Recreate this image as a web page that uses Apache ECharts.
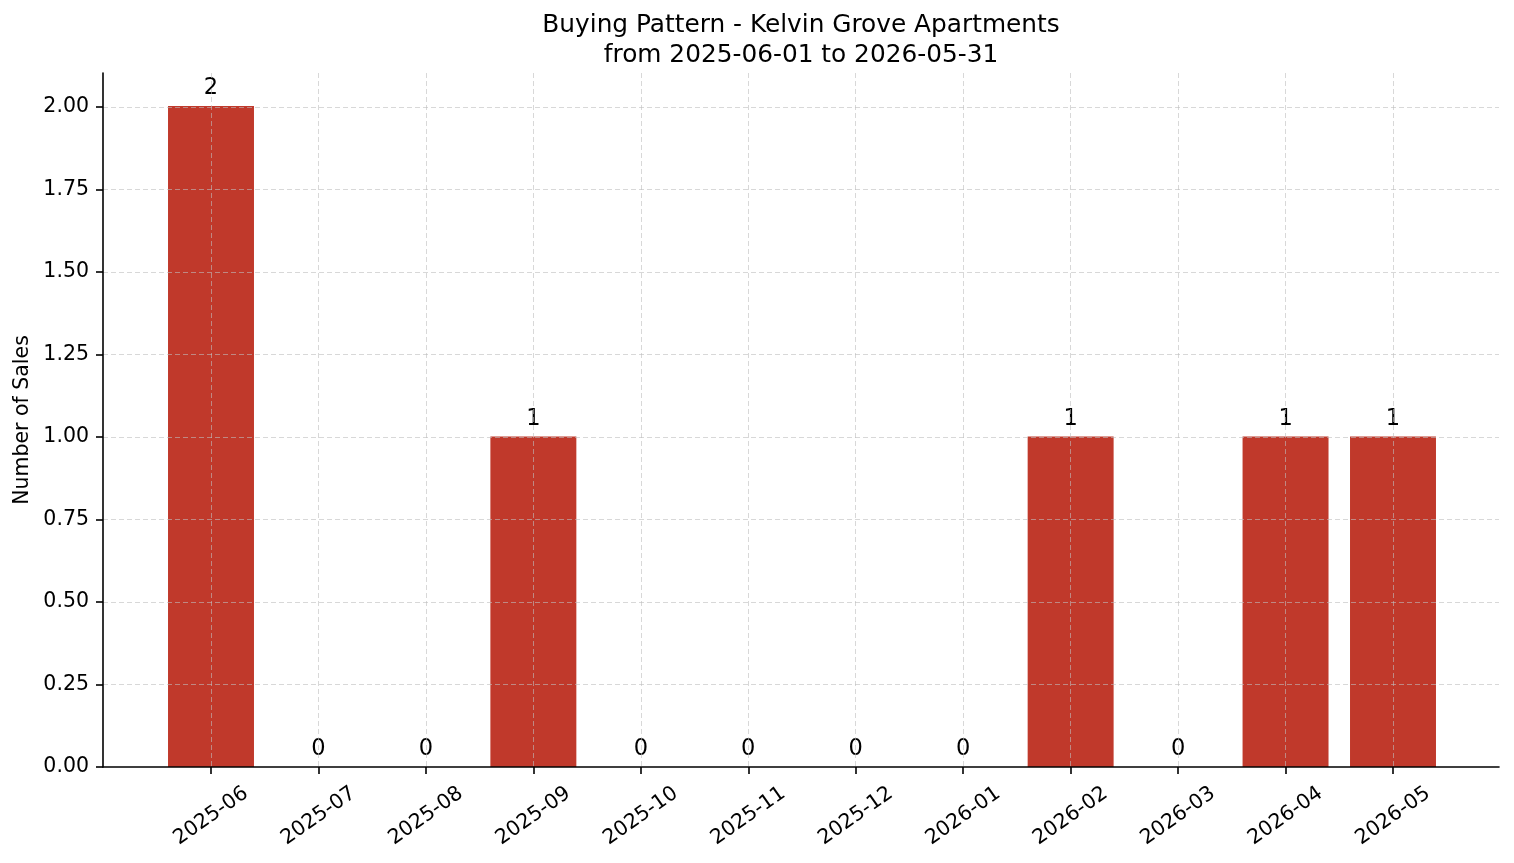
<!DOCTYPE html>
<html>
<head>
<meta charset="utf-8">
<title>Buying Pattern - Kelvin Grove Apartments</title>
<script src="https://cdn.jsdelivr.net/npm/echarts@6/dist/echarts.min.js"></script>
<style>
  html, body { margin: 0; padding: 0; background: #fff; }
  #chart { width: 1514px; height: 863px; }
</style>
</head>
<body>
<div id="chart"></div>
<script>
var titleText = 'Buying Pattern - Kelvin Grove Apartments\nfrom 2025-06-01 to 2026-05-31'
var yAxisName = 'Number of Sales'
var months = ['2025-06', '2025-07', '2025-08', '2025-09', '2025-10', '2025-11',
  '2025-12', '2026-01', '2026-02', '2026-03', '2026-04', '2026-05']
var salesCounts = [2, 0, 0, 1, 0, 0, 0, 0, 1, 0, 1, 1]
var yMin = 0
var yMax = 2
var yStep = 0.25
var yTop = 2.1

var FONT = 'DejaVu Sans'
var BAR_COLOR = '#c0392b'
var INK = '#000'
var GRID_STYLE = { color: 'rgba(190,190,190,0.6)', width: 1, type: [5, 3] }

var chart = echarts.init(document.getElementById('chart'))

// three grids: spines (full box), y ticks (0..2), bars/categories (tick centre to tick centre)
var option = {
  animation: false,
  backgroundColor: '#fff',
  textStyle: { fontFamily: FONT },
  graphic: [{
    type: 'text',
    x: 801,
    y: 11,
    style: {
      text: titleText,
      fontFamily: FONT,
      fontSize: 24.8,
      lineHeight: 29.4,
      fill: INK,
      textAlign: 'center',
      textVerticalAlign: 'top'
    }
  }],
  grid: [
    { left: 103, right: 15, top: 73, bottom: 96 },
    { left: 103, right: 15, top: 107, bottom: 96 },
    { left: 211, right: 121, top: 73, bottom: 96 }
  ],
  xAxis: [
    {
      gridIndex: 0, type: 'value', min: 0, max: 1, position: 'bottom', z: 6,
      axisLine: { show: true, lineStyle: { color: INK, width: 1.6 } },
      axisTick: { show: false }, axisLabel: { show: false }, splitLine: { show: false }
    },
    { gridIndex: 1, type: 'value', show: false },
    {
      gridIndex: 2, type: 'category', data: months, boundaryGap: false, z: 5,
      axisLine: { show: false },
      axisTick: { show: true, interval: 0, length: 7, lineStyle: { color: INK, width: 1.6 } },
      axisLabel: {
        interval: 0, rotate: 35, align: 'center', verticalAlign: 'middle', margin: 49,
        fontSize: 20.5, color: INK, fontFamily: FONT
      },
      splitLine: { show: true, interval: 0, lineStyle: GRID_STYLE }
    }
  ],
  yAxis: [
    {
      gridIndex: 0, type: 'value', min: 0, max: 1, z: 6,
      name: yAxisName, nameLocation: 'middle', nameGap: 70,
      nameTextStyle: { fontSize: 20.5, color: INK, fontFamily: FONT },
      axisLine: { show: true, lineStyle: { color: INK, width: 1.6 } },
      axisTick: { show: false }, axisLabel: { show: false }, splitLine: { show: false }
    },
    {
      gridIndex: 1, type: 'value', min: yMin, max: yMax, interval: yStep, z: 5,
      axisLine: { show: false },
      axisTick: { show: true, length: 7, lineStyle: { color: INK, width: 1.6 } },
      axisLabel: {
        margin: 14, fontSize: 20.5, color: INK, fontFamily: FONT,
        formatter: function (v) { return v.toFixed(2) }
      },
      splitLine: { show: true, showMinLine: false, lineStyle: GRID_STYLE }
    },
    { gridIndex: 2, type: 'value', min: yMin, max: yTop, show: false }
  ],
  series: [{
    type: 'bar',
    xAxisIndex: 2,
    yAxisIndex: 2,
    data: salesCounts,
    barWidth: '80%',
    clip: false,
    itemStyle: { color: BAR_COLOR },
    label: {
      show: true, position: 'top', distance: 6,
      fontSize: 22.5, color: INK, fontFamily: FONT
    }
  }]
}

chart.setOption(option)
window.addEventListener('resize', function () { chart.resize() })
</script>
</body>
</html>
